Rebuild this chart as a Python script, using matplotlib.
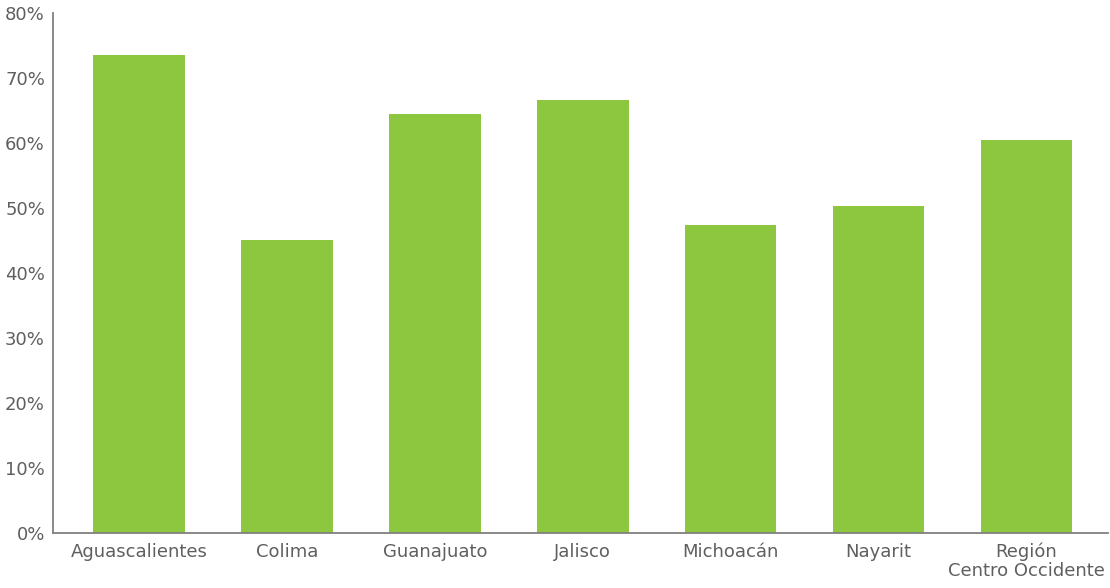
import matplotlib.pyplot as plt
from matplotlib.ticker import PercentFormatter

# Data
estados = ["Aguascalientes", "Colima", "Guanajuato", "Jalisco",
           "Michoacán", "Nayarit", "Región\nCentro Occidente"]
porcentaje = [73.5, 45.1, 64.5, 66.6, 47.4, 50.3, 60.5]
y_ticks = [0, 10, 20, 30, 40, 50, 60, 70, 80]

verde = "#8DC63F"
gris = "#5f5f5f"

fig = plt.figure(figsize=(11.1, 5.88), dpi=100)
ax = fig.add_axes([0.048, 0.0935, 0.95, 0.884])

x = range(len(estados))
ax.bar(x, porcentaje, width=0.62, color=verde)

ax.set_xlim(-0.58, 6.55)
ax.set_ylim(0, 80)
ax.set_yticks(y_ticks)
ax.yaxis.set_major_formatter(PercentFormatter(decimals=0))
ax.set_xticks(list(x))
ax.set_xticklabels(estados, linespacing=1.05)

ax.tick_params(length=0, labelsize=13, colors=gris, pad=6)
ax.tick_params(axis="x", pad=7)
for side in ["top", "right"]:
    ax.spines[side].set_visible(False)
for side in ["left", "bottom"]:
    ax.spines[side].set_color("#808080")
    ax.spines[side].set_linewidth(1.3)

fig.savefig("out.png", dpi=100)
